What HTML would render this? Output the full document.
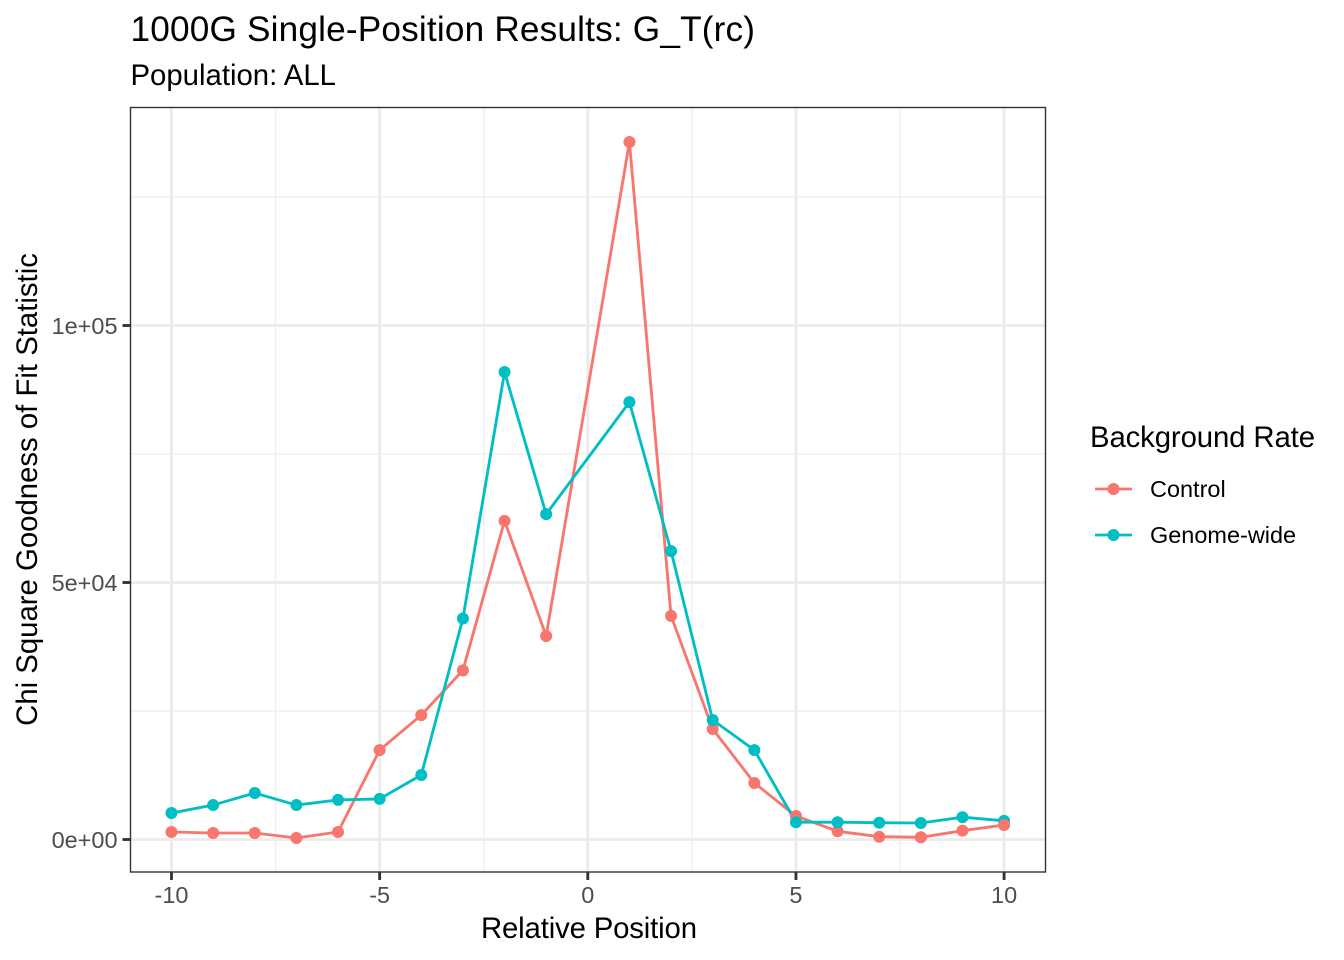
<!DOCTYPE html>
<html lang="en">
<head>
<meta charset="utf-8">
<title>1000G Single-Position Results</title>
<style>
html,body{margin:0;padding:0;background:#fff;width:1344px;height:960px;overflow:hidden}
svg{display:block}
text{font-family:"Liberation Sans",Arial,sans-serif}
</style>
</head>
<body>
<svg id="chart" xmlns="http://www.w3.org/2000/svg" width="1344" height="960" viewBox="0 0 1344 960">
  <rect x="0" y="0" width="1344" height="960" fill="#ffffff"/>
  <g id="grid"></g>
  <g id="series"></g>
  <rect x="130.5" y="107.5" width="915" height="764.5" fill="none" stroke="#333333" stroke-width="1.4"/>
  <g id="axes"></g>
  <text x="130.5" y="41" font-size="35.2" fill="#000" textLength="624.5">1000G Single-Position Results: G_T(rc)</text>
  <text x="130.5" y="85" font-size="29.33" fill="#000">Population: ALL</text>
  <text x="481" y="938" font-size="29.33" fill="#000" textLength="216">Relative Position</text>
  <text transform="translate(37,489.5) rotate(-90)" font-size="29.33" text-anchor="middle" fill="#000">Chi Square Goodness of Fit Statistic</text>
  <g id="legend">
    <text x="1090" y="447" font-size="29.33" fill="#000" textLength="225">Background Rate</text>
  </g>
</svg>
<script>
var positions = [-10,-9,-8,-7,-6,-5,-4,-3,-2,-1,1,2,3,4,5,6,7,8,9,10];
var controlValues = [1460,1265,1265,290,1460,17400,24200,32900,62000,39600,135700,43500,21500,11000,4570,1595,545,430,1720,2820];
var genomeWideValues = [5150,6700,9050,6700,7700,7900,12550,43000,90950,63300,85100,56100,23250,17400,3360,3360,3270,3210,4340,3630];
var xTicks = [-10,-5,0,5,10];
var xMinorTicks = [-7.5,-2.5,2.5,7.5];
var yTicks = [0,50000,100000];
var yTickLabels = ["0e+00","5e+04","1e+05"];
var yMinorTicks = [25000,75000,125000];
var seriesNames = ["Control","Genome-wide"];
var seriesColors = ["#F8766D","#00BFC4"];
var controlOnTopAt = [10];

var NS = "http://www.w3.org/2000/svg";
function xScale(v){ return 587.8 + v * 41.63; }
function yScale(v){ return 839.5 - v * 514 / 100000; }
function mk(tag, attrs, parent, txt){
  var el = document.createElementNS(NS, tag);
  for (var k in attrs) el.setAttribute(k, attrs[k]);
  if (txt !== undefined) el.textContent = txt;
  parent.appendChild(el);
  return el;
}
var gridG = document.getElementById("grid");
var axesG = document.getElementById("axes");
var seriesG = document.getElementById("series");
var legendG = document.getElementById("legend");
var el;

yMinorTicks.forEach(function(v){
  el = mk("line",{x1:130.5,x2:1045.5,y1:yScale(v),y2:yScale(v),stroke:"#f0f0f0","stroke-width":1.4},gridG);
  
  
});
xMinorTicks.forEach(function(v){
  el = mk("line",{x1:xScale(v),x2:xScale(v),y1:107.5,y2:872,stroke:"#f0f0f0","stroke-width":1.4},gridG);
  
  
});
yTicks.forEach(function(v){
  el = mk("line",{x1:130.5,x2:1045.5,y1:yScale(v),y2:yScale(v),stroke:"#ebebeb","stroke-width":2.85},gridG);
  
  
});
xTicks.forEach(function(v){
  el = mk("line",{x1:xScale(v),x2:xScale(v),y1:107.5,y2:872,stroke:"#ebebeb","stroke-width":2.85},gridG);
  
  
});

[controlValues, genomeWideValues].forEach(function(vals, s){
  var pts = vals.map(function(v,i){ return xScale(positions[i]).toFixed(2) + "," + yScale(v).toFixed(2); }).join(" ");
  el = mk("polyline",{points:pts,fill:"none",stroke:seriesColors[s],"stroke-width":2.85,"stroke-linejoin":"round"},seriesG);
  
  
});
function drawPoint(v, p, s){
  el = mk("circle",{cx:xScale(p),cy:yScale(v),r:6,fill:seriesColors[s]},seriesG);
  
  
}
positions.forEach(function(p,i){
  if (controlOnTopAt.indexOf(p) >= 0) {
    drawPoint(genomeWideValues[i], p, 1);
    drawPoint(controlValues[i], p, 0);
  } else {
    drawPoint(controlValues[i], p, 0);
    drawPoint(genomeWideValues[i], p, 1);
  }
});

xTicks.forEach(function(v){
  el = mk("line",{x1:xScale(v),x2:xScale(v),y1:872,y2:880,stroke:"#333333","stroke-width":2.85},axesG);
  
  
  el = mk("text",{x:xScale(v),y:903,"font-size":23.47,"text-anchor":"middle",fill:"#4d4d4d"},axesG,String(v));
  
  
});
yTicks.forEach(function(v,i){
  el = mk("line",{x1:122.5,x2:130.5,y1:yScale(v),y2:yScale(v),stroke:"#333333","stroke-width":2.85},axesG);
  
  
  el = mk("text",{x:117.5,y:yScale(v)+8.3,"font-size":23.47,"text-anchor":"end",fill:"#4d4d4d"},axesG,yTickLabels[i]);
  
  
});

seriesNames.forEach(function(name,i){
  var cy = 489 + i * 46;
  el = mk("line",{x1:1095,x2:1132,y1:cy,y2:cy,stroke:seriesColors[i],"stroke-width":2.85},legendG);
  
  
  el = mk("circle",{cx:1113.5,cy:cy,r:6,fill:seriesColors[i]},legendG);
  
  
  el = mk("text",{x:1150,y:cy+8,"font-size":23.47,fill:"#000"},legendG,name);
  
  
});
</script>
</body>
</html>
